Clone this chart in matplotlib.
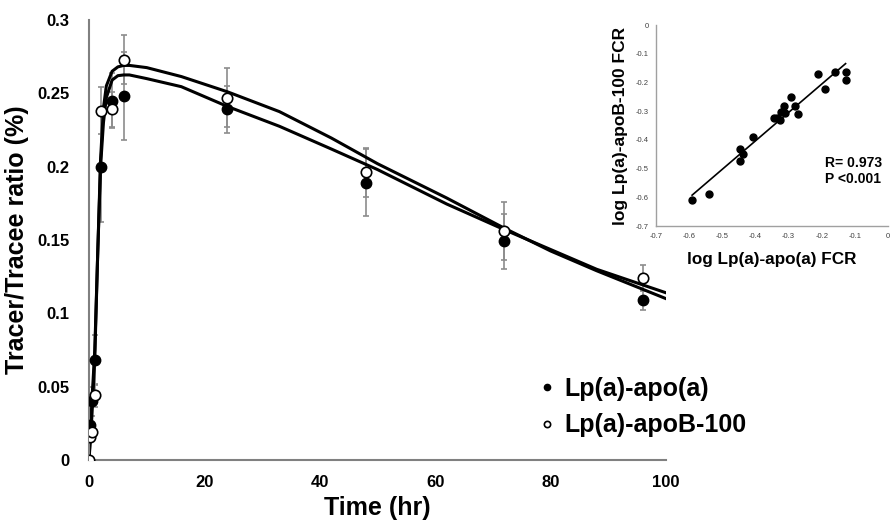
import numpy as np
import matplotlib
matplotlib.use('Agg')
import matplotlib.pyplot as plt

plt.rcParams['font.family'] = ['Liberation Sans', 'DejaVu Sans']
plt.rcParams['axes.unicode_minus'] = False

# ---------------- data: main panel ----------------
t_apoa = [0.25, 0.5, 1, 2, 4, 6, 24, 48, 72, 96]
v_apoa = [0.024, 0.040, 0.068, 0.200, 0.245, 0.248, 0.239, 0.189, 0.149, 0.109]
e_apoa = [0.005, 0.010, 0.017, 0.038, 0.019, 0.030, 0.016, 0.023, 0.019, 0.007]

t_apob = [0, 0.25, 0.5, 1, 2, 4, 6, 24, 48, 72, 96]
v_apob = [0, 0.016, 0.019, 0.044, 0.238, 0.239, 0.273, 0.247, 0.196, 0.156, 0.124]
e_apob = [0, 0.003, 0.004, 0.008, 0.016, 0.012, 0.017, 0.020, 0.017, 0.020, 0.009]

# model fit curves
t_fit = [0, 0.25, 0.5, 1, 1.5, 2, 2.5, 3, 4, 5, 6, 7, 10, 16, 24, 33, 42, 50, 62, 72, 80, 88, 100]
fit_apoa = [0, 0.02, 0.04, 0.075, 0.14, 0.2, 0.23, 0.247, 0.259, 0.262, 0.2625, 0.2625, 0.26,
            0.2545, 0.241, 0.2275, 0.212, 0.198, 0.1745, 0.157, 0.1435, 0.13, 0.114]
fit_apob = [0, 0.015, 0.03, 0.07, 0.14, 0.205, 0.24, 0.255, 0.265, 0.268, 0.269, 0.269, 0.2675,
            0.2614, 0.251, 0.2375, 0.2195, 0.202, 0.1786, 0.158, 0.1425, 0.129, 0.110]

x_ticks = [0, 20, 40, 60, 80, 100]
y_ticks = [0, 0.05, 0.1, 0.15, 0.2, 0.25, 0.3]
y_ticklabels = ['0', '0.05', '0.1', '0.15', '0.2', '0.25', '0.3']

# ---------------- data: inset ----------------
fcr_apoa = [-0.591, -0.539, -0.446, -0.446, -0.436, -0.406, -0.345, -0.335, -0.325, -0.323,
            -0.312, -0.313, -0.293, -0.282, -0.272, -0.211, -0.190, -0.159, -0.128, -0.128]
fcr_apob = [-0.610, -0.590, -0.432, -0.472, -0.450, -0.390, -0.322, -0.322, -0.331, -0.302,
            -0.305, -0.282, -0.252, -0.282, -0.311, -0.172, -0.223, -0.163, -0.163, -0.192]
inset_ticks = [-0.7, -0.6, -0.5, -0.4, -0.3, -0.2, -0.1, 0]
inset_ticklabels = ['-0.7', '-0.6', '-0.5', '-0.4', '-0.3', '-0.2', '-0.1', '0']

# ---------------- figure ----------------
fig = plt.figure(figsize=(8.92, 5.22), dpi=100, facecolor='white')
ax = fig.add_axes([0.0998, 0.1188, 0.6468, 0.843])

ax.errorbar(t_apoa, v_apoa, yerr=e_apoa, fmt='none', ecolor='#8c8c8c', elinewidth=1.2,
            capsize=2.5, capthick=1.2, zorder=1)
ax.errorbar(t_apob, v_apob, yerr=e_apob, fmt='none', ecolor='#8c8c8c', elinewidth=1.2,
            capsize=2.5, capthick=1.2, zorder=1)
ax.plot(t_fit, fit_apoa, color='black', lw=2.2, zorder=2)
ax.plot(t_fit, fit_apob, color='black', lw=2.2, zorder=2)
ax.plot(t_apoa, v_apoa, 'o', color='black', ms=7.5, zorder=3, label='Lp(a)-apo(a)')
ax.plot(t_apob, v_apob, 'o', mfc='white', mec='black', mew=1.2, ms=7.5, zorder=4,
        label='Lp(a)-apoB-100')

ax.set_xlim(0, 100)
ax.set_ylim(0, 0.3)
ax.set_xticks(x_ticks)
ax.set_xticklabels([str(v) for v in x_ticks], fontsize=12, fontweight='bold')
ax.set_yticks(y_ticks)
ax.set_yticklabels(y_ticklabels, fontsize=12, fontweight='bold')
ax.tick_params(length=0)
ax.tick_params(axis='x', pad=11)
ax.tick_params(axis='y', pad=14)
for s in ['top', 'right']:
    ax.spines[s].set_visible(False)
for s in ['left', 'bottom']:
    ax.spines[s].set_color('#808080')
    ax.spines[s].set_linewidth(1.5)
ax.set_facecolor('none')
ax.set_xlabel('Time (hr)', fontsize=18, fontweight='bold', labelpad=4)
ax.set_ylabel('Tracer/Tracee ratio (%)', fontsize=18, fontweight='bold', labelpad=6)

leg = ax.legend(loc='lower right', bbox_to_anchor=(1.178, 0.0), frameon=False,
                prop={'size': 18, 'weight': 'bold'}, handlelength=0.4, handletextpad=0.5,
                markerscale=0.6, labelspacing=0.5)

# ---------------- inset ----------------
ins = fig.add_axes([0.7354, 0.567, 0.2601, 0.385])
ins.set_facecolor('none')
ins.plot(fcr_apoa, fcr_apob, 'o', color='black', ms=5)
k, b = np.polyfit(fcr_apoa, fcr_apob, 1)
xx = np.array([min(fcr_apoa), max(fcr_apoa)])
ins.plot(xx, k * xx + b, color='black', lw=1.2)
ins.set_xlim(-0.7, 0)
ins.set_ylim(-0.7, 0)
ins.set_xticks(inset_ticks)
ins.set_xticklabels(inset_ticklabels, fontsize=5.5, color='#404040')
ins.set_yticks(inset_ticks)
ins.set_yticklabels(inset_ticklabels, fontsize=5.5, color='#404040')
ins.tick_params(length=0, pad=5)
for s in ['top', 'right']:
    ins.spines[s].set_visible(False)
for s in ['left', 'bottom']:
    ins.spines[s].set_color('#a0a0a0')
    ins.spines[s].set_linewidth(1)
ins.set_xlabel('log Lp(a)-apo(a) FCR', fontsize=12.3, fontweight='bold', labelpad=9)
ins.set_ylabel('log Lp(a)-apoB-100 FCR', fontsize=12.5, fontweight='bold', labelpad=6)
ins.text(-0.19, -0.508, 'R= 0.973\nP <0.001', fontsize=10, fontweight='bold',
         ha='left', va='center', linespacing=1.2)

plt.savefig('out.png', dpi=100)
